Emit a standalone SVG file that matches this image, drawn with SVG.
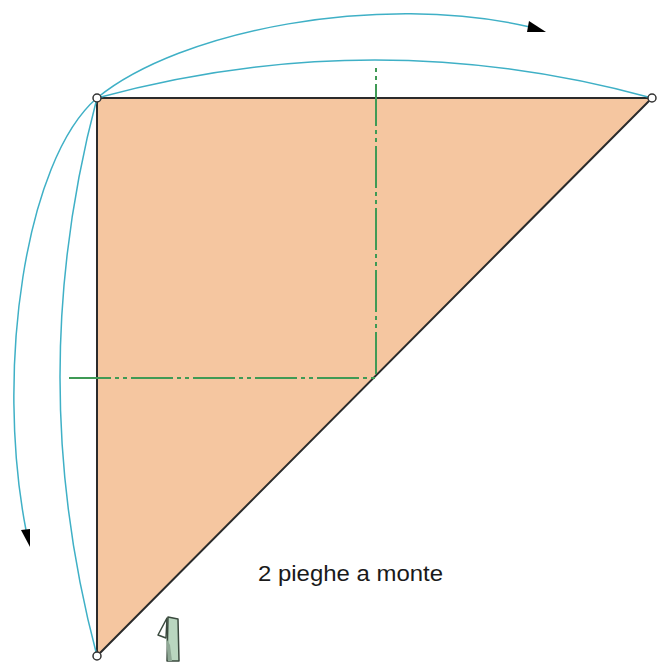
<svg xmlns="http://www.w3.org/2000/svg" width="658" height="664" viewBox="0 0 658 664">
<style>
.arc{fill:none;stroke:#3fb0c6;stroke-width:1.5}
.fold{fill:none;stroke:#3f9a55;stroke-width:2}
.pt{fill:#fff;stroke:#333;stroke-width:1.5}
.head{fill:#000}
</style>
<rect width="658" height="664" fill="#fff"/>
<g id="triangle"><polygon points="97,98 652,98 97,656" fill="#f5c6a0" stroke="#2b2b2b" stroke-width="2"/></g>
<g id="connectors">
<path class="fold" d="M69 378H376" stroke-dasharray="42 4 4 4 4 4"/>
<path class="fold" d="M376 68V378" stroke-dasharray="4 4 4 4 42 4"/>
<path class="arc" d="M97 98Q375 22 652 98"/>
<path class="arc" d="M97 98C180 30 380 -8 530 27"/>
<path class="arc" d="M97 98Q23 377 97 656"/>
<path class="arc" d="M97 98C25 160 -5 370 26 530"/>
<polygon class="head" points="546,32 529,21 527,32"/>
<polygon class="head" points="30,547 21,530 30,529"/>
</g>
<g id="point-a"><circle class="pt" cx="97" cy="98" r="4"/></g>
<g id="point-b"><circle class="pt" cx="652" cy="98" r="4"/></g>
<g id="point-c"><circle class="pt" cx="97" cy="656" r="4"/></g>
<g id="label"><text x="258" y="581" font-family="Liberation Sans, Arial, sans-serif" font-size="22" fill="#1a1a1a" textLength="185" lengthAdjust="spacingAndGlyphs">2 pieghe a monte</text></g>
<g id="fold-icon" stroke="#3a4a3e" stroke-width="1.5" stroke-linejoin="round">
<polygon points="167,618 158,635 166,638" fill="#fff"/>
<polygon points="168,617 178,619 179,661 167,661" fill="#b9d6bf"/>
<polygon points="166,638 168,661 172,661 170,645" fill="#8fa895" stroke="none"/>
</g>
</svg>
